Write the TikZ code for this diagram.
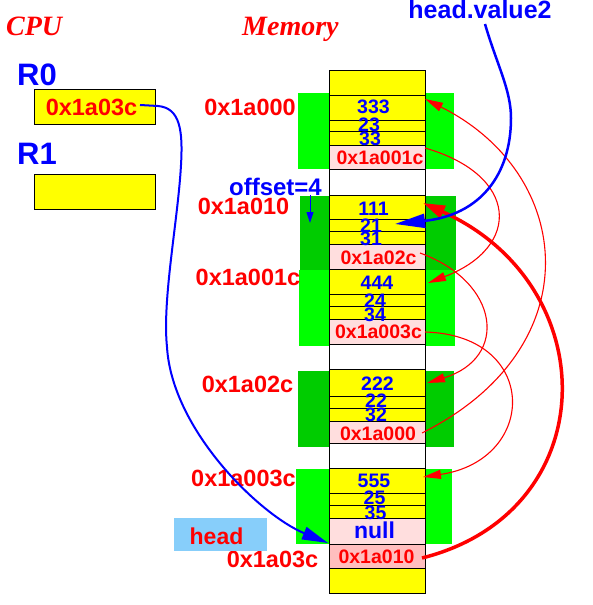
\documentclass[tikz,border=0pt]{standalone}
\usepackage{fontspec}
\setmainfont{Liberation Sans}
\newfontfamily\titlefont{Liberation Serif}
\usetikzlibrary{arrows.meta}
\definecolor{yel}{RGB}{255,255,0}
\definecolor{pinkl}{RGB}{255,222,222}
\definecolor{pinkd}{RGB}{255,190,190}
\definecolor{grnl}{RGB}{0,255,0}
\definecolor{grnd}{RGB}{0,204,0}
\definecolor{hbox}{RGB}{135,206,250}
\definecolor{txtred}{RGB}{255,0,0}
\definecolor{txtblue}{RGB}{0,0,255}
\begin{document}
\begin{tikzpicture}[x=1pt,y=-1pt,
  cellbox/.style={draw=black, line width=1pt, inner sep=0pt, minimum width=96pt, anchor=north west},
  regbox/.style={draw=black, line width=1pt, fill=yel, inner sep=0pt, minimum width=121pt, minimum height=35pt, anchor=north west},
  num/.style={font=\bfseries\fontsize{19.5}{20}\selectfont, text=txtblue, inner sep=0pt, text height=14pt, text depth=0pt},
  ptr/.style={num, text=txtred},
  addr/.style={font=\bfseries\fontsize{23.5}{24}\selectfont, text=txtred, inner sep=0pt, text height=17pt, text depth=0pt},
  reglab/.style={font=\bfseries\fontsize{31}{32}\selectfont, text=txtblue, inner sep=0pt, text height=22.3pt, text depth=0pt, anchor=west},
  title/.style={font=\titlefont\bfseries\itshape\fontsize{28}{30}\selectfont, text=txtred, inner sep=0pt, anchor=base west},
  bluelab/.style={font=\bfseries\fontsize{24}{25}\selectfont, text=txtblue, inner sep=0pt, text height=17.3pt, text depth=0pt},
  redarc/.style={draw=txtred, line width=1.1pt, -{Triangle[length=18pt,width=9pt]}},
  thickarc/.style={draw=txtred, line width=3.5pt, -{Triangle[length=22pt,width=13pt]}},
  bluearc/.style={draw=txtblue, line width=2.2pt, -{Triangle[length=26pt,width=13pt]}},
]
\useasboundingbox (0,0) rectangle (592,605);

% green backgrounds
\fill[grnl] (298,93) rectangle (454,169);
\fill[grnl] (299,270) rectangle (455,346);
\fill[grnd] (300,196) rectangle (456,270);
\fill[grnd] (298,371) rectangle (454,447);
\fill[grnl] (296,469) rectangle (452,544);

% memory cells
\foreach \n/\a/\b/\c in {c0/70/95/yel, v1a/95/120/yel, v1b/120/131/yel, v1c/131/145/yel,
  p1/145/169/pinkl, w1/169/195/white,
  v2a/195/219/yel, v2b/219/231/yel, v2c/231/244/yel, p2/244/269/pinkl,
  v3a/269/294/yel, v3b/294/306/yel, v3c/306/319/yel, p3/319/344/pinkl, w2/344/369/white,
  v4a/369/396/yel, v4b/396/408/yel, v4c/408/421/yel, p4/421/443/pinkl, w3/443/468/white,
  v5a/468/493/yel, v5b/493/505/yel, v5c/505/518/yel, p5/518/544/pinkl,
  hd/544/568/pinkd, c9/568/593/yel}{
  \pgfmathsetmacro\hh{\b-\a}
  \node[cellbox, fill=\c, minimum height=\hh pt] (\n) at (329,\a) {};
}

% cell contents
\node[num] (t333) at (373.5,106) {333};
\node[num] (t23) at (369,124) {23};
\node[num] (t33) at (370,138) {33};
\node[ptr] (tp1) at (380,157) {0x1a001c};
\node[num] (t111) at (373.5,208.5) {111};
\node[num] (t21) at (371,225) {21};
\node[num] (t31) at (371,238) {31};
\node[ptr] (tp2) at (378.5,257) {0x1a02c};
\node[num] (t444) at (377,282) {444};
\node[num] (t24) at (375,300) {24};
\node[num] (t34) at (375,314) {34};
\node[ptr] (tp3) at (378.5,331) {0x1a003c};
\node[num] (t222) at (377.5,383) {222};
\node[num] (t22) at (376,400) {22};
\node[num] (t32) at (376,414) {32};
\node[ptr] (tp4) at (378,433) {0x1a000};
\node[num] (t555) at (374,480) {555};
\node[num] (t25) at (374.5,497) {25};
\node[num] (t35) at (375.5,512) {35};
\node[num, font=\bfseries\fontsize{23}{24}\selectfont, text height=16.6pt] (tnull) at (374.5,530.5) {null};
\node[ptr] (thd) at (376.5,556.5) {0x1a010};

% address labels
\node[addr] (a000) at (250,107) {0x1a000};
\node[addr] (a010) at (243.5,206) {0x1a010};
\node[addr] (a01c) at (248,277) {0x1a001c};
\node[addr] (a02c) at (247.5,384) {0x1a02c};
\node[addr] (a03c3) at (243.5,478) {0x1a003c};
\node[addr] (a03c) at (272.5,559) {0x1a03c};

% head box
\node[fill=hbox, inner sep=0pt, minimum width=93pt, minimum height=33pt] (headbox) at (220.5,534.5) {};
\node[addr, font=\bfseries\fontsize{23}{24}\selectfont, text height=16.6pt] (headtxt) at (216.5,536) {head};

% titles
\node[title] (cpu) at (6,35) {CPU};
\node[title] (mem) at (242,35) {Memory};

% registers
\node[reglab] (r0lab) at (17,74) {R0};
\node[reglab] (r1lab) at (17,153.5) {R1};
\node[regbox] (r0) at (34,89) {};
\node[regbox] (r1) at (34,174) {};
\node[addr] (r0val) at (91.5,107) {0x1a03c};

% blue labels
\node[bluelab, font=\bfseries\fontsize{25}{26}\selectfont, text height=18pt] (hv2) at (480,10) {head.value2};
\node[bluelab] (off) at (275.5,186.5) {offset=4};

% coordinates for connectors
\coordinate (s1) at (425,148);  \coordinate (e1) at (428,283);
\coordinate (s2) at (420,253);  \coordinate (e2) at (427,383);
\coordinate (s3) at (425,332);  \coordinate (e3) at (423,477);
\coordinate (s4) at (422,433);  \coordinate (e4) at (425,99);
\coordinate (s5) at (422,558);  \coordinate (e5) at (423,203);
\coordinate (hvs) at (485,24);  \coordinate (hve) at (395,224);
\coordinate (r0s) at (140,105); \coordinate (r0e) at (328,543);
\coordinate (offs) at (310,195); \coordinate (offe) at (310,223);

% red list arcs
\draw[redarc] (s1) .. controls (519,175) and (522,247) .. (e1);
\draw[redarc] (s2) .. controls (500,282) and (509,358) .. (e2);
\draw[redarc] (s3) .. controls (540,335) and (538,460) .. (e3);
\draw[redarc] (s4) .. controls (592,348) and (575,174) .. (e4);
\draw[thickarc] (s5) .. controls (605,512) and (606,285) .. (e5);

% blue arrows
\draw[bluearc, line width=2.5pt, -{Triangle[length=30pt,width=14pt]}] (hvs) .. controls (497,65) and (511,90) .. (511,118) .. controls (511,175) and (480,215) .. (hve);
\draw[bluearc, line width=2pt] (r0s) -- (158,106) .. controls (180,108) and (183,130) .. (181,165) .. controls (178,220) and (162,300) .. (167,347) .. controls (172,430) and (260,515) .. (r0e);
\draw[draw=txtblue, line width=1pt, -{Triangle[length=11pt,width=7pt]}] (offs) -- (offe);
\end{tikzpicture}
\end{document}
